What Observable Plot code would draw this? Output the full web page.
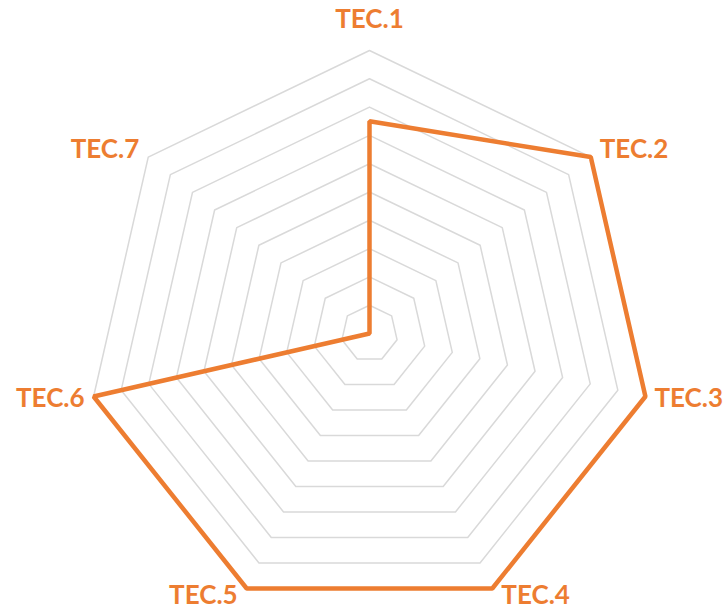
<!DOCTYPE html>
<html>
<head>
<meta charset="utf-8">
<script src="https://cdn.jsdelivr.net/npm/d3@7"></script>
<script src="https://cdn.jsdelivr.net/npm/@observablehq/plot@0.6"></script>
<style>
  html, body { margin: 0; padding: 0; background: #ffffff; }
  #chart { width: 725px; height: 612px; }
</style>
</head>
<body>
<div id="chart"></div>
<script>
// ---- data ----
const categories = ["TEC.1", "TEC.2", "TEC.3", "TEC.4", "TEC.5", "TEC.6", "TEC.7"];
const values = [7.5, 10, 10, 10, 10, 10, 0];
const ringLevels = [1, 2, 3, 4, 5, 6, 7, 8, 9, 10];
const maxValue = 10;

// ---- layout ----
const W = 725, H = 612;
const cx = 369, cy = 333;      // centre in pixels
const k = 28.3;                // pixels per unit
const orange = "#ED7D31";
const gridColor = "#d9d9d9";

const n = categories.length;
const angle = i => (i * 2 * Math.PI) / n;   // clockwise from top
const px = (v, i) => v * Math.sin(angle(i));
const py = (v, i) => v * Math.cos(angle(i));

const ringData = ringLevels.flatMap(r => categories.map((c, i) => ({ring: r, x: px(r, i), y: py(r, i)})));
const seriesData = categories.map((c, i) => ({cat: c, x: px(values[i], i), y: py(values[i], i)}));
const labelData = categories.map((c, i) => {
  const s = Math.sin(angle(i)), co = Math.cos(angle(i));
  const top = Math.abs(s) < 0.1;
  return {
    cat: c,
    x: px(maxValue, i),
    y: py(maxValue, i),
    anchor: top ? "middle" : (s > 0 ? "start" : "end"),
    dx: top ? 0 : (s > 0 ? 9 : -9),
    dy: top ? -31 : (co < -0.5 ? -8.5 * co : -12 * co)
  };
});

const textMark = d => Plot.text([d], {
  x: "x", y: "y", text: "cat",
  textAnchor: d.anchor, dx: d.dx, dy: d.dy,
  fill: orange, fontSize: 26, fontWeight: "bold",
  fontFamily: "Lato, 'Open Sans', sans-serif"
});

const chart = Plot.plot({
  width: W,
  height: H,
  margin: 0,
  x: {type: "linear", domain: [-cx / k, (W - cx) / k], range: [0, W], axis: null},
  y: {type: "linear", domain: [-(H - cy) / k, cy / k], range: [H, 0], axis: null},
  style: {background: "#ffffff"},
  marks: [
    Plot.line(ringData, {x: "x", y: "y", z: "ring", curve: "linear-closed", stroke: gridColor, strokeWidth: 1.5}),
    Plot.line(seriesData, {x: "x", y: "y", curve: "linear-closed", stroke: orange, strokeWidth: 4.5, strokeLinejoin: "miter"}),
    ...labelData.map(textMark)
  ]
});
document.getElementById("chart").appendChild(chart);
</script>
</body>
</html>
